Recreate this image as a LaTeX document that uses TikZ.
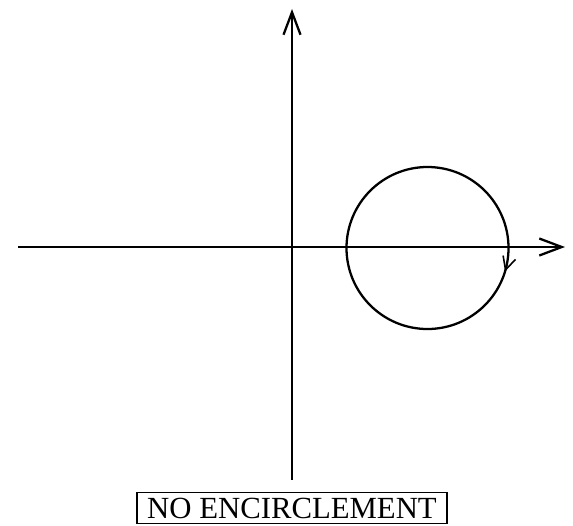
\documentclass[tikz,border=0pt]{standalone}
\usepackage{fontspec}
\setmainfont{Liberation Serif}
\usetikzlibrary{arrows.meta,decorations.markings}
\tikzset{
    % Coordinate axes with open barbed tips
    axis/.style={
        -{Straight Barb[length=0.45cm,width=0.34cm,line width=1.3pt]},
        line width=1.4pt,
        color=black
    },
    % Closed contour, clockwise
    contour/.style={
        line width=1.3pt,
        color=black,
        postaction={decorate},
        decoration={markings,
            mark=at position 0.953 with {\arrowreversed{Straight Barb[length=0.26cm,width=0.26cm,line width=0.9pt]}}}
    },
    label box/.style={
        rectangle,
        draw=black,
        line width=0.8pt,
        minimum width=6.2cm,
        minimum height=0.62cm,
        inner sep=0pt,
        align=center,
        font=\fontsize{17.5}{20}\selectfont
    }
}
\begin{document}
\begin{tikzpicture}[x=0.02cm, y=0.02cm]
        \useasboundingbox (0,0) rectangle (573,525);

        % Axes
        \coordinate (xstart) at (18,278);
        \coordinate (xend) at (565,278);
        \coordinate (ystart) at (292,45);
        \coordinate (yend) at (292,516);
        \draw[axis] (xstart) -- (xend);
        \draw[axis] (ystart) -- (yend);

        % Contour
        \coordinate (centre) at (427.5,277);
        \draw[contour] (centre) circle (81);

        % Caption
        \node[label box] (caption) at (292,17) {NO ENCIRCLEMENT};
    \end{tikzpicture}
\end{document}
